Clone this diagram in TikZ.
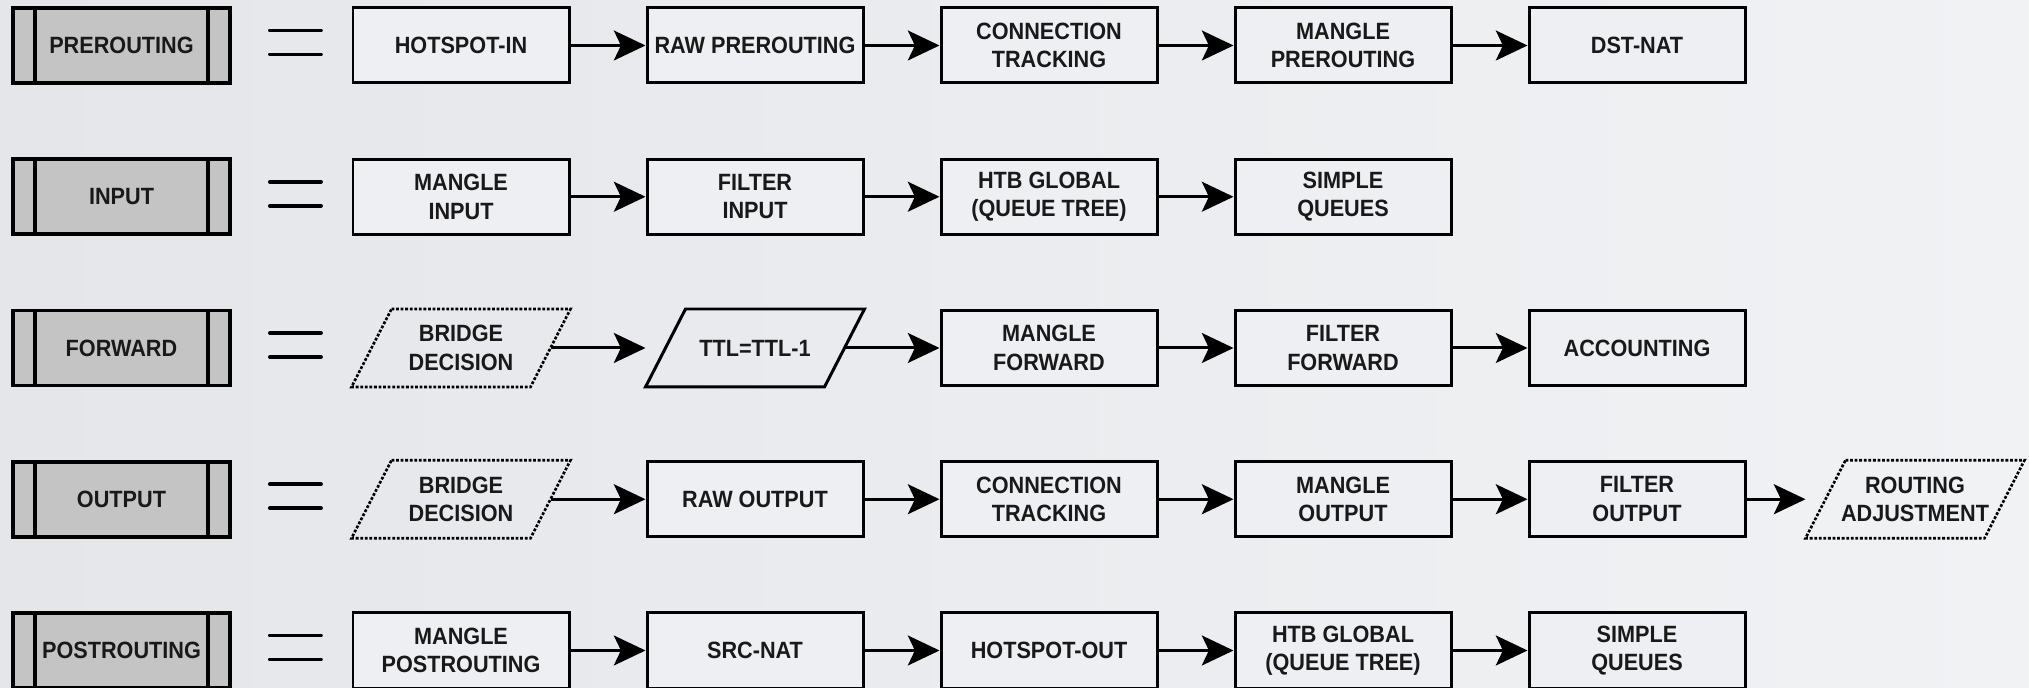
\documentclass[tikz,border=0pt]{standalone}
\usepackage{fontspec}
\setmainfont{Liberation Sans}[FakeStretch=0.92]
\usetikzlibrary{positioning,arrows.meta,calc}
\definecolor{fondoizq}{RGB}{228,230,234}
\definecolor{fondoder}{RGB}{241,242,244}
\definecolor{relleno}{RGB}{238,239,242}
\definecolor{griscadena}{RGB}{196,196,196}
\definecolor{texto}{RGB}{25,25,25}

\begin{document}
\begin{tikzpicture}[
  caja/.style={draw, line width=0.85pt, fill=relleno, minimum width=2.16cm,
               minimum height=0.75cm, inner sep=1pt, align=center, text=texto,
               font=\fontsize{6.7}{8.1}\selectfont\bfseries},
  cadena/.style={caja, fill=griscadena, line width=1.1pt, minimum width=2.17cm},
  paral/.style={caja, draw=none, fill=none},
  linea/.style={line width=1.1pt},
  borde/.style={line width=0.85pt, line join=miter},
  punteado/.style={line width=0.75pt, dash pattern=on 0.8pt off 0.5pt},
  igual/.style={line width=1.1pt, line cap=round},
  flecha/.style={-{Stealth[length=9pt, width=8.5pt, inset=2pt]}, line width=0.85pt},
  desde/.style={shorten <=-0.2cm}]
  \useasboundingbox (0,0) rectangle (20.29,-6.88);
  \shade[left color=fondoizq, right color=fondoder] (0,0) rectangle (20.29,-6.88);
  % Cadenas
  \foreach \nom/\txt [count=\i] in {pre/PREROUTING, inp/INPUT, fwd/FORWARD,
      out/OUTPUT, post/POSTROUTING}{
    \node[cadena] (\nom) at (1.215,{-0.455-1.5125*(\i-1)}) {\txt};
    \draw[linea] ([xshift=0.24cm]\nom.north west) -- ([xshift=0.24cm]\nom.south west);
    \draw[linea] ([xshift=-0.24cm]\nom.north east) -- ([xshift=-0.24cm]\nom.south east);
    \draw[igual] ([shift={(0.38,0.15)}]\nom.east) -- ++(0.51,0);
    \draw[igual] ([shift={(0.38,-0.09)}]\nom.east) -- ++(0.51,0);
  }
  % PREROUTING
  \foreach \txt [count=\i] in {HOTSPOT-IN, RAW PREROUTING, {CONNECTION\\TRACKING},
      {MANGLE\\PREROUTING}, DST-NAT}
    \node[caja] (pre\i) at ({4.61+2.94*(\i-1)},-0.455) {\txt};
  % INPUT
  \foreach \txt [count=\i] in {{MANGLE\\INPUT}, {FILTER\\INPUT},
      {HTB GLOBAL\\(QUEUE TREE)}, {SIMPLE\\QUEUES}}
    \node[caja] (inp\i) at ({4.61+2.94*(\i-1)},-1.9675) {\txt};
  % FORWARD
  \node[paral] (fwd1) at (4.61,-3.48) {BRIDGE\\DECISION};
  \node[paral] (fwd2) at (7.55,-3.48) {TTL=TTL-1};
  \foreach \txt [count=\i from 3] in {{MANGLE\\FORWARD}, {FILTER\\FORWARD}, ACCOUNTING}
    \node[caja] (fwd\i) at ({4.61+2.94*(\i-1)},-3.48) {\txt};
  % OUTPUT
  \node[paral] (out1) at (4.61,-4.9925) {BRIDGE\\DECISION};
  \foreach \txt [count=\i from 2] in {RAW OUTPUT, {CONNECTION\\TRACKING},
      {MANGLE\\OUTPUT}, {FILTER\\OUTPUT}}
    \node[caja] (out\i) at ({4.61+2.94*(\i-1)},-4.9925) {\txt};
  \node[paral] (out6) at (19.15,-4.9925) {ROUTING\\ADJUSTMENT};
  % POSTROUTING
  \foreach \txt [count=\i] in {{MANGLE\\POSTROUTING}, SRC-NAT, HOTSPOT-OUT,
      {HTB GLOBAL\\(QUEUE TREE)}, {SIMPLE\\QUEUES}}
    \node[caja] (post\i) at ({4.61+2.94*(\i-1)},-6.505) {\txt};
  % Paralelogramos
  \foreach \n in {fwd1, out1, out6}
    \draw[punteado] ([xshift=0.4cm]\n.north west) -- (\n.north east)
      -- ([xshift=-0.4cm]\n.south east) -- (\n.south west) -- cycle;
  \draw[borde] ([xshift=0.4cm]fwd2.north west) -- (fwd2.north east)
    -- ([xshift=-0.4cm]fwd2.south east) -- (fwd2.south west) -- cycle;
  % Flechas
  \foreach \i [evaluate=\i as \j using int(\i+1)] in {1,...,4}{
    \draw[flecha] (pre\i) -- (pre\j);
    \draw[flecha] (post\i) -- (post\j);
  }
  \foreach \i [evaluate=\i as \j using int(\i+1)] in {1,...,3}
    \draw[flecha] (inp\i) -- (inp\j);
  \draw[flecha, desde] (fwd1) -- (fwd2);
  \draw[flecha, desde] (fwd2) -- (fwd3);
  \draw[flecha] (fwd3) -- (fwd4);
  \draw[flecha] (fwd4) -- (fwd5);
  \draw[flecha, desde] (out1) -- (out2);
  \foreach \i [evaluate=\i as \j using int(\i+1)] in {2,...,5}
    \draw[flecha] (out\i) -- (out\j);
\end{tikzpicture}
\end{document}
